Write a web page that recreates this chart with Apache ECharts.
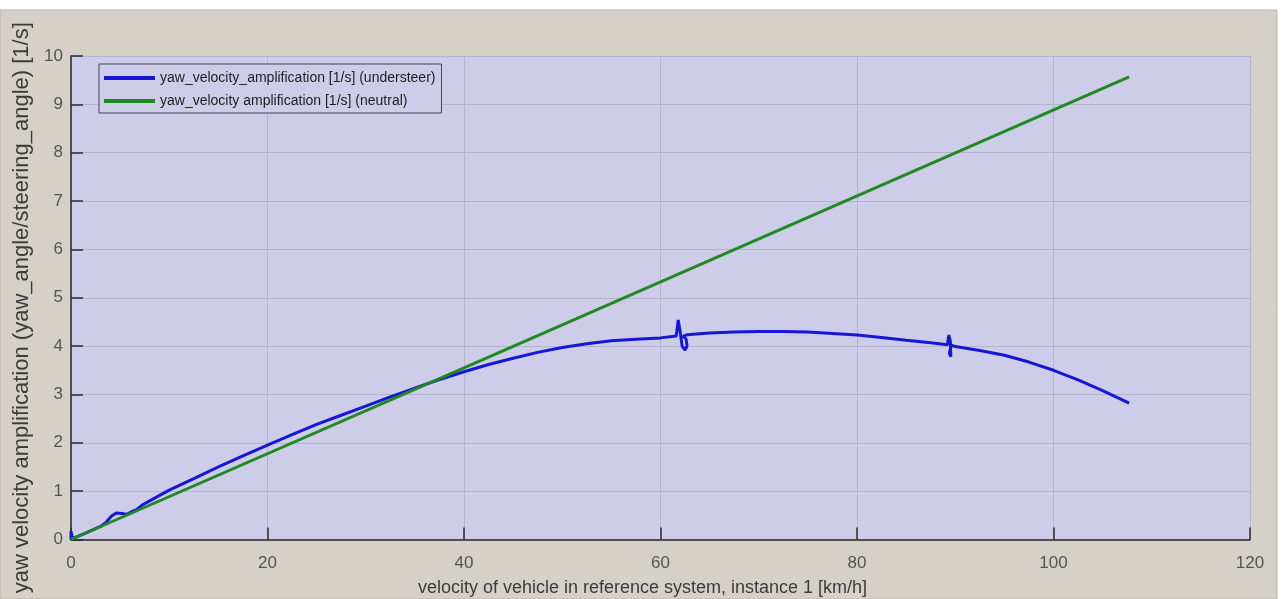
<!DOCTYPE html>
<html>
<head>
<meta charset="utf-8">
<script src="https://cdn.jsdelivr.net/npm/echarts@6/dist/echarts.min.js"></script>
<style>
html,body{margin:0;padding:0;background:#ffffff;}
#chart{width:1285px;height:599px;}
</style>
</head>
<body>
<div id="chart"></div>
<script>
// ---- data ----
const xTicks = [0, 20, 40, 60, 80, 100, 120];
const yTicks = [0, 1, 2, 3, 4, 5, 6, 7, 8, 9, 10];

const understeerX = [0, 0, 0.15, 1, 2, 3, 3.6, 4.1, 4.6, 5.2, 5.7, 6.2, 6.7, 7.3, 8, 10, 12.5, 15, 17.5, 20, 22.5, 25, 27.5, 30, 32.5, 35, 37.5, 40, 42.5, 45, 47.5, 50, 52.5, 55, 57.5, 60, 61.6, 61.8, 62.0, 62.2, 62.5, 62.7, 62.6, 62.3, 62.6, 63, 65, 67.5, 70, 72.5, 75, 77.5, 80, 82.5, 85, 87.5, 89.2, 89.35, 89.5, 89.55, 89.4, 89.6, 90, 92.5, 95, 97.5, 100, 102.5, 105, 107.7];
const understeerY = [0, 0.17, 0.02, 0.09, 0.18, 0.27, 0.36, 0.48, 0.55, 0.54, 0.52, 0.58, 0.62, 0.72, 0.8, 1.02, 1.26, 1.5, 1.73, 1.95, 2.17, 2.38, 2.57, 2.76, 2.95, 3.13, 3.31, 3.47, 3.62, 3.75, 3.87, 3.97, 4.05, 4.11, 4.14, 4.17, 4.21, 4.54, 4.3, 4.0, 3.92, 4.0, 4.15, 4.2, 4.23, 4.24, 4.27, 4.29, 4.30, 4.30, 4.29, 4.26, 4.23, 4.18, 4.12, 4.07, 4.03, 4.23, 4.1, 3.78, 3.85, 4.02, 3.99, 3.91, 3.81, 3.67, 3.5, 3.3, 3.08, 2.82];

const neutralX = [0, 40, 107.7];
const neutralY = [0, 3.55, 9.57];

const legendNames = [
  'yaw_velocity_amplification [1/s] (understeer)',
  'yaw_velocity amplification [1/s] (neutral)'
];
const xName = 'velocity of vehicle in reference system, instance 1 [km/h]';
const yName = 'yaw velocity amplification (yaw_angle/steering_angle) [1/s]';

const pair = (xs, ys) => xs.map((x, i) => [x, ys[i]]);

const chart = echarts.init(document.getElementById('chart'), null, {renderer: 'canvas'});
const font = 'Liberation Sans, Arial, sans-serif';

chart.setOption({
  backgroundColor: '#ffffff',
  animation: false,
  graphic: [
    {type: 'rect', z: -10, silent: true,
     shape: {x: 0, y: 10, width: 1277, height: 589},
     style: {fill: '#d5d1c9', stroke: '#b8b4ac', lineWidth: 1}}
  ],
  grid: {
    left: 71, top: 56, right: 35, bottom: 59.5,
    containLabel: false, outerBoundsMode: 'none',
    show: true, backgroundColor: '#cdcde9', borderWidth: 0
  },
  legend: {
    left: 99, top: 64, orient: 'vertical',
    padding: [6, 6, 4, 5], itemGap: 7,
    itemWidth: 51, itemHeight: 4, icon: 'rect',
    backgroundColor: '#cdcde9', borderColor: '#45455a', borderWidth: 1,
    textStyle: {fontFamily: font, fontSize: 14, color: '#1e1e1e', lineHeight: 16},
    data: legendNames
  },
  xAxis: {
    type: 'value', min: 0, max: 120, interval: 20,
    name: xName, nameLocation: 'middle', nameGap: 40,
    nameTextStyle: {fontFamily: font, fontSize: 18, color: '#3c3c3c', padding: [0, 36, 0, 0]},
    axisLine: {show: true, lineStyle: {color: '#2a2a2a', width: 1.5}},
    axisTick: {show: true, inside: true, length: 12, lineStyle: {color: '#2a2a2a', width: 1.5}},
    axisLabel: {fontFamily: font, fontSize: 17, color: '#555555', margin: 15,
      formatter: v => xTicks.includes(v) ? String(v) : ''},
    splitLine: {show: true, lineStyle: {color: '#b3b3c9', width: 1}}
  },
  yAxis: {
    type: 'value', min: 0, max: 10, interval: 1,
    name: yName, nameLocation: 'middle', nameGap: 37, nameRotate: 90,
    nameTextStyle: {fontFamily: font, fontSize: 22, color: '#3c3c3c', padding: [0, 20, 0, 0]},
    axisLine: {show: true, lineStyle: {color: '#2a2a2a', width: 1.5}},
    axisTick: {show: true, inside: true, length: 12, lineStyle: {color: '#2a2a2a', width: 1.5}},
    axisLabel: {fontFamily: font, fontSize: 17, color: '#555555', margin: 8,
      formatter: v => yTicks.includes(v) ? String(v) : ''},
    splitLine: {show: true, lineStyle: {color: '#b3b3c9', width: 1}}
  },
  series: [
    {
      name: legendNames[0], type: 'line', data: pair(understeerX, understeerY),
      showSymbol: false, symbol: 'none', smooth: false, z: 2,
      lineStyle: {color: '#1616d6', width: 3}, itemStyle: {color: '#1616d6'}
    },
    {
      name: legendNames[1], type: 'line', data: pair(neutralX, neutralY),
      showSymbol: false, symbol: 'none', z: 3,
      lineStyle: {color: '#208a20', width: 3}, itemStyle: {color: '#208a20'}
    }
  ]
});
</script>
</body>
</html>
